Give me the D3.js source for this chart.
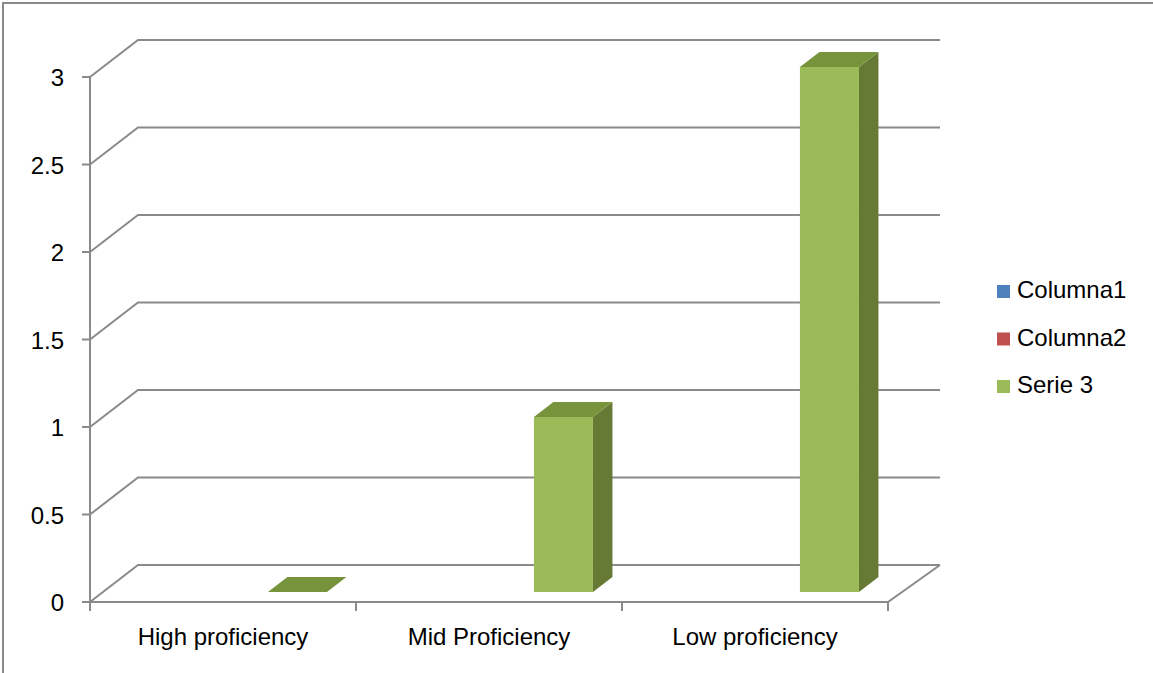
<!DOCTYPE html>
<html>
<head>
<meta charset="utf-8">
<script src="https://cdn.jsdelivr.net/npm/d3@7/dist/d3.min.js"></script>
<style>
  html, body { margin: 0; padding: 0; background: #fff; }
  svg { display: block; }
  text { font-family: "Liberation Sans", Arial, sans-serif; fill: #000; }
</style>
</head>
<body>
<svg id="chart" width="1153" height="673"></svg>
<script>
// Chart data
const categories = ["High proficiency", "Mid Proficiency", "Low proficiency"];
const seriesNames = ["Columna1", "Columna2", "Serie 3"];
const columna1 = [null, null, null];
const columna2 = [null, null, null];
const serie3 = [0, 1, 3];
const yTicks = [0, 0.5, 1, 1.5, 2, 2.5, 3];
const seriesColors = ["#4F81BD", "#C0504D", "#9BBB59"];

const seriesValues = [columna1, columna2, serie3];

const svg = d3.select("#chart");
const W = 1153, H = 673;
const FONT = 24;

// Outer chart-area frame (top and left edges)
svg.append("path")
  .attr("d", `M3,${H} L3,3 L${W},3`)
  .attr("fill", "none").attr("stroke", "#8a8a8a").attr("stroke-width", 2);

// Front plane of the 3D box, plus depth offset toward the back wall
const x = d3.scaleBand().domain(categories).range([90, 888]);
const y = d3.scaleLinear().domain([0, 3]).range([602, 77]);
const DX = 48, DY = -37;
const proj = (px, v, z) => [px + z * DX, y(v) + z * DY];

const inner = d3.scaleBand().domain(seriesNames)
  .range([0, x.bandwidth()]).paddingInner(0.04).paddingOuter(0.683);

const gridColor = "#8a8a8a";
const g = svg.append("g");

// Back-wall gridlines and side-wall diagonals
yTicks.forEach(t => {
  const a = proj(x.range()[0], t, 0), b = proj(x.range()[0], t, 1), c = proj(x.range()[1], t, 1);
  g.append("path")
    .attr("d", `M${a[0]},${a[1]} L${b[0]},${b[1]} L${c[0] + 4},${c[1]}`)
    .attr("fill", "none").attr("stroke", gridColor).attr("stroke-width", 2);
});

// Floor: front edge and right diagonal
{
  const a = proj(x.range()[0], 0, 0), b = proj(x.range()[1], 0, 0), c = proj(x.range()[1], 0, 1);
  g.append("path")
    .attr("d", `M${a[0]},${a[1]} L${b[0]},${b[1]} L${c[0] + 4},${c[1]}`)
    .attr("fill", "none").attr("stroke", gridColor).attr("stroke-width", 2);
}

// Vertical value axis with tick marks
g.append("line")
  .attr("x1", 90).attr("x2", 90).attr("y1", y(3)).attr("y2", y(0))
  .attr("stroke", gridColor).attr("stroke-width", 2);
yTicks.forEach(t => {
  g.append("line").attr("x1", 82).attr("x2", 90).attr("y1", y(t)).attr("y2", y(t))
    .attr("stroke", gridColor).attr("stroke-width", 2);
  g.append("text").attr("x", 64).attr("y", y(t) + 9)
    .attr("text-anchor", "end").attr("font-size", FONT).text(d3.format("")(t));
});

// Category ticks and labels
const catEdges = [x.range()[0], ...categories.map(c => x(c) + x.bandwidth())];
catEdges.forEach(px => {
  g.append("line").attr("x1", px).attr("x2", px).attr("y1", y(0)).attr("y2", y(0) + 9)
    .attr("stroke", gridColor).attr("stroke-width", 2);
});
categories.forEach(c => {
  g.append("text").attr("x", x(c) + x.bandwidth() / 2).attr("y", 645)
    .attr("text-anchor", "middle").attr("font-size", FONT).text(c);
});

// 3D columns
const Z0 = 0.27, Z1 = 0.676;
const shade = {
  front: ["#4F81BD", "#C0504D", "#9BBB59"],
  side: ["#385D8A", "#8C3836", "#677A35"],
  top: ["#3E6A9E", "#A04240", "#77933C"]
};
const pts = arr => arr.map(p => p.join(",")).join(" ");
seriesNames.forEach((s, si) => {
  seriesValues[si].forEach((v, ci) => {
    if (v === null || v === undefined) return;
    const x0 = x(categories[ci]) + inner(s), x1 = x0 + inner.bandwidth();
    const bars = g.append("g");
    if (v > 0) {
      bars.append("polygon").attr("fill", shade.side[si]).attr("points",
        pts([proj(x1, 0, Z0), proj(x1, 0, Z1), proj(x1, v, Z1), proj(x1, v, Z0)]));
      bars.append("polygon").attr("fill", shade.front[si]).attr("points",
        pts([proj(x0, 0, Z0), proj(x1, 0, Z0), proj(x1, v, Z0), proj(x0, v, Z0)]));
    }
    bars.append("polygon").attr("fill", shade.top[si]).attr("points",
      pts([proj(x0, v, Z0), proj(x1, v, Z0), proj(x1, v, Z1), proj(x0, v, Z1)]));
  });
});

// Legend
const legend = svg.append("g");
seriesNames.forEach((s, i) => {
  const base = 298 + i * 47.5;
  legend.append("rect").attr("x", 997).attr("y", base - 13).attr("width", 13).attr("height", 13)
    .attr("fill", seriesColors[i]);
  legend.append("text").attr("x", 1017).attr("y", base).attr("font-size", FONT).text(s);
});
</script>
</body>
</html>
